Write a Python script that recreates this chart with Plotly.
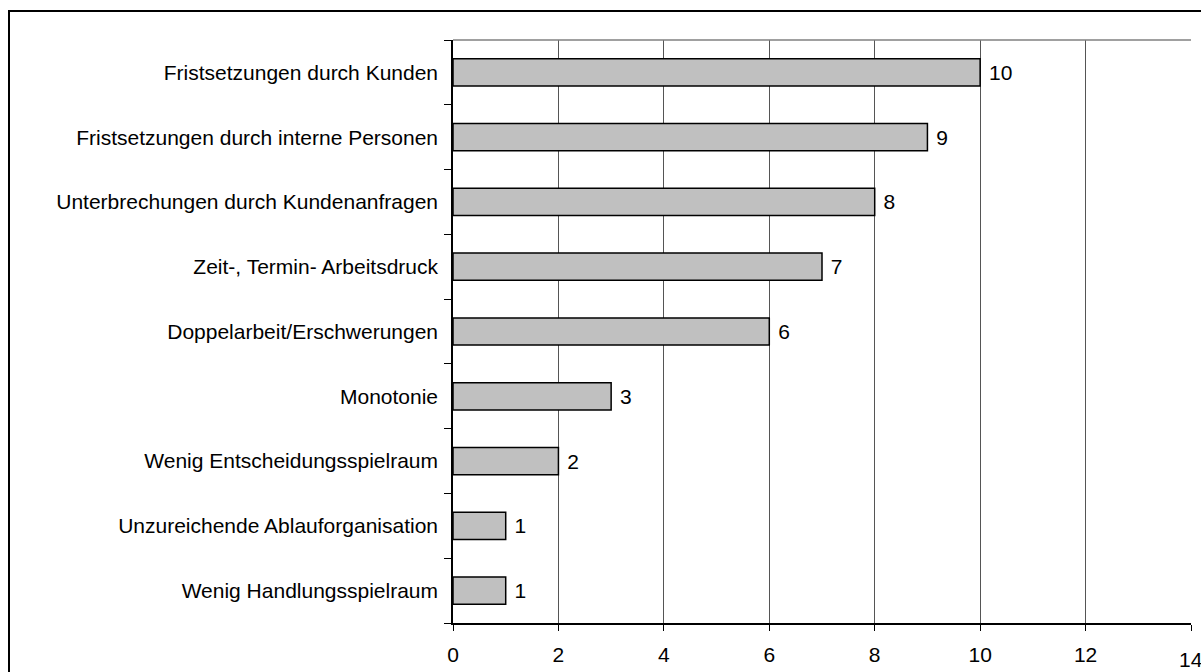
import plotly.graph_objects as go

categories = [
    "Fristsetzungen durch Kunden",
    "Fristsetzungen durch interne Personen",
    "Unterbrechungen durch Kundenanfragen",
    "Zeit-, Termin- Arbeitsdruck",
    "Doppelarbeit/Erschwerungen",
    "Monotonie",
    "Wenig Entscheidungsspielraum",
    "Unzureichende Ablauforganisation",
    "Wenig Handlungsspielraum",
]
values = [10, 9, 8, 7, 6, 3, 2, 1, 1]
x_ticks = [0, 2, 4, 6, 8, 10, 12, 14]

FONT = "Liberation Sans, Arial, sans-serif"
FS = 21

fig = go.Figure(go.Bar(
    y=categories,
    x=values,
    orientation="h",
    marker=dict(color="#C0C0C0", line=dict(color="black", width=1.5)),
    width=0.42,
    text=[" " + str(v) for v in values],
    textposition="outside",
    textfont=dict(family=FONT, size=FS, color="black"),
    cliponaxis=False,
))

L, R, T, B = 453, 10, 40, 49
W, H = 1201, 672
pw = W - L - R
ph = H - T - B

fig.update_layout(
    width=W, height=H,
    margin=dict(l=L, r=R, t=T, b=B, pad=0, autoexpand=False),
    paper_bgcolor="white",
    plot_bgcolor="white",
    showlegend=False,
    font=dict(family=FONT, size=FS, color="black"),
    xaxis=dict(
        range=[0, 14],
        tickvals=x_ticks,
        ticktext=[str(t) for t in x_ticks],
        showgrid=True,
        gridcolor="#555555",
        gridwidth=1,
        zeroline=False,
        showline=True,
        linecolor="black",
        linewidth=1.5,
        ticks="outside",
        ticklen=6,
        tickcolor="black",
        automargin=False,
        ticklabelstandoff=6,
        tickfont=dict(family=FONT, size=FS, color="black"),
    ),
    yaxis=dict(
        categoryorder="array",
        categoryarray=categories[::-1],
        autorange=False,
        range=[-0.5, len(categories) - 0.5],
        showgrid=False,
        zeroline=False,
        showline=True,
        linecolor="black",
        linewidth=1.5,
        ticks="outside",
        tickson="boundaries",
        ticklen=7,
        tickcolor="black",
        automargin=False,
        ticklabelstandoff=9,
        tickfont=dict(family=FONT, size=FS, color="black"),
    ),
)

# last x tick label, which runs past the right edge (clipped like the reference)
fig.add_annotation(x=x_ticks[-1], xref="x", y=0, yref="paper", yanchor="top",
                   text=str(x_ticks[-1]), showarrow=False, yshift=-23,
                   font=dict(family=FONT, size=FS, color="black"))

# top plot border (grey)
fig.add_shape(type="line", xref="paper", yref="paper", x0=0, x1=1, y0=1, y1=1,
              line=dict(color="#808080", width=1.5))
# outer chart frame
fig.add_shape(type="rect", xref="paper", yref="paper",
              x0=(9 - L) / pw, x1=1.1, y0=-0.2, y1=(H - B - 11) / ph,
              line=dict(color="black", width=2), fillcolor="rgba(0,0,0,0)")

fig.write_html("out.html")
